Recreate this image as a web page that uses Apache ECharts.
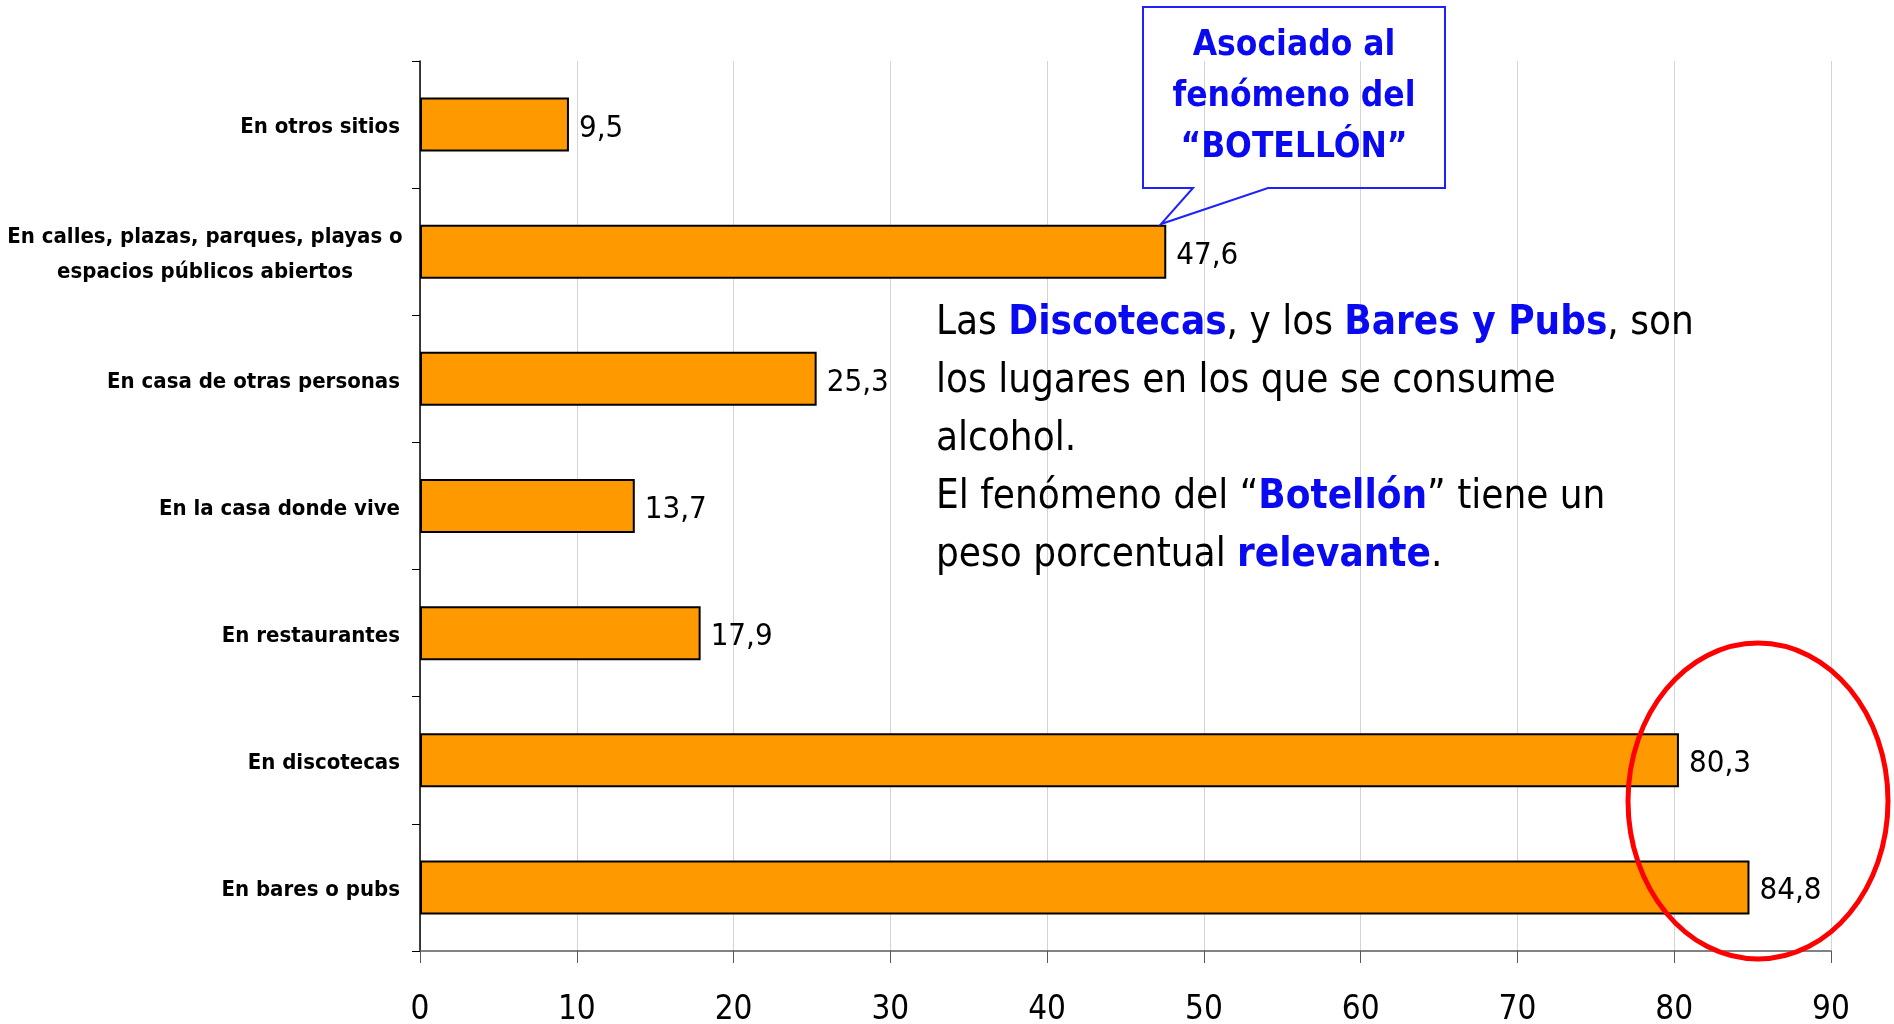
<!DOCTYPE html>
<html>
<head>
<meta charset="utf-8">
<script src="https://cdn.jsdelivr.net/npm/echarts@6/dist/echarts.min.js"></script>
<style>
  html, body { margin: 0; padding: 0; background: #fff; }
  #chart { width: 1894px; height: 1024px; }
</style>
</head>
<body>
<div id="chart"></div>
<script>
// categorias de abajo hacia arriba (el eje de categorias empieza abajo)
var categorias = [
  'En bares o pubs',
  'En discotecas',
  'En restaurantes',
  'En la casa donde vive',
  'En casa de otras personas',
  'En calles, plazas, parques, playas o\nespacios públicos abiertos',
  'En otros sitios'
];
var porcentajes = [84.8, 80.3, 17.9, 13.7, 25.3, 47.6, 9.5];
var ticksX = [0, 10, 20, 30, 40, 50, 60, 70, 80, 90];

var FUENTE = "'Liberation Sans Narrow', 'DejaVu Sans Condensed', 'Roboto', sans-serif";
var AZUL = '#0a0af0';

var myChart = echarts.init(document.getElementById('chart'));

myChart.setOption({
  animation: false,
  grid: { left: 420, right: 63, top: 61, bottom: 73, outerBoundsMode: 'none', containLabel: false },
  xAxis: {
    type: 'value',
    min: ticksX[0],
    max: ticksX[ticksX.length - 1],
    interval: 10,
    axisLine: { show: true, lineStyle: { color: '#595959', width: 1.5 } },
    axisTick: { show: true, length: 12, lineStyle: { color: '#595959' } },
    splitLine: { show: true, lineStyle: { color: '#d4d4d4', width: 1 } },
    axisLabel: {
      margin: 42, fontSize: 33, lineHeight: 34, color: '#000', fontFamily: FUENTE
    }
  },
  yAxis: {
    type: 'category',
    data: categorias,
    axisLine: { show: true, lineStyle: { color: '#000', width: 1.5 } },
    axisTick: { show: true, length: 8, lineStyle: { color: '#000' } },
    axisLabel: {
      margin: 20, fontSize: 22, fontWeight: 'bold', color: '#000', fontFamily: FUENTE,
      padding: [6, 0, 0, 0],
      formatter: function (v) {
        if (v.indexOf('\n') < 0) return v;
        return v.split('\n').map(function (l) { return '{c|' + l + '}'; }).join('\n');
      },
      rich: {
        c: { width: 390, align: 'center', fontSize: 22, fontWeight: 'bold',
             lineHeight: 35, fontFamily: FUENTE, color: '#000' }
      }
    }
  },
  series: [{
    type: 'bar',
    data: porcentajes,
    barWidth: 54,
    itemStyle: { color: '#ff9900', borderColor: '#000', borderWidth: 2 },
    label: {
      show: true, position: 'right', distance: 10, offset: [0, 4],
      fontSize: 31, color: '#000', fontFamily: FUENTE,
      formatter: function (p) { return String(p.value).replace('.', ','); }
    }
  }],
  graphic: [
    {
      // bocadillo "Botellon"
      type: 'polygon', z: 100,
      shape: { points: [[1143, 7], [1445, 7], [1445, 188], [1268, 188], [1161, 224], [1193, 188], [1143, 188]] },
      style: { fill: 'rgba(255,255,255,0)', stroke: '#2020ff', lineWidth: 2 }
    },
    {
      type: 'text', z: 101, x: 1294, y: 97,
      style: {
        text: 'Asociado al\nfenómeno del\n“BOTELLÓN”',
        align: 'center', verticalAlign: 'middle',
        font: 'bold 35px ' + FUENTE, lineHeight: 51, fill: AZUL
      }
    },
    {
      type: 'text', z: 101, x: 936, y: 295,
      style: {
        text: '{n|Las }{b|Discotecas}{n|, y los }{b|Bares y Pubs}{n|, son}\n' +
              '{n|los lugares en los que se consume}\n' +
              '{n|alcohol.}\n' +
              '{n|El fenómeno del “}{b|Botellón}{n|” tiene un}\n' +
              '{n|peso porcentual }{b|relevante}{n|.}',
        lineHeight: 58,
        rich: {
          n: { font: '40px ' + FUENTE, fill: '#000', lineHeight: 58 },
          b: { font: 'bold 40px ' + FUENTE, fill: AZUL, lineHeight: 58 }
        }
      }
    },
    {
      type: 'ellipse', z: 102,
      shape: { cx: 1758, cy: 801, rx: 130, ry: 158 },
      style: { fill: 'none', stroke: '#ff0000', lineWidth: 5 }
    }
  ]
});
</script>
</body>
</html>
